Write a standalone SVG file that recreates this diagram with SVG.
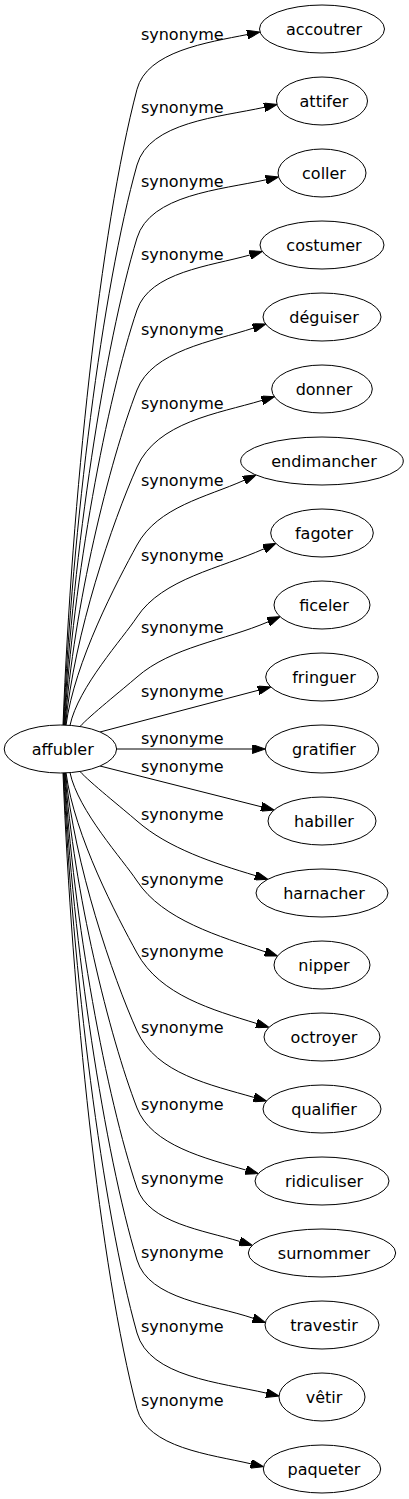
<svg xmlns="http://www.w3.org/2000/svg" width="409" height="1499" viewBox="0 0 409 1499">
<style>
.node ellipse{fill:#ffffff;stroke:#000000;stroke-width:1}
text{font-family:"DejaVu Sans","Liberation Sans",sans-serif;font-size:16px;fill:#000000;text-anchor:middle}
.edges path{fill:none;stroke:#000000;stroke-width:1;marker-end:url(#arr)}
</style>
<defs>
<marker id="arr" viewBox="0 0 13 9" refX="0" refY="4.5" markerWidth="13" markerHeight="9" markerUnits="userSpaceOnUse" orient="auto">
<path d="M0,0 L13,4.5 L0,9 Z" fill="#000000" stroke="#000000" stroke-width="1"/>
</marker>
</defs>
<rect x="0" y="0" width="409" height="1499" fill="#ffffff"/>
<g class="edges" id="edges">
<path d="M63,725.2 C71.9,500.3 99.8,230.8 137,89.3 C147,51.2 207.4,42.5 247.25,34.55"/>
<path d="M63.5,725.2 C72.3,527.1 102.2,289.1 137,165 C149.1,122 219.3,117.2 264.3,107.3"/>
<path d="M64,725.2 C72.8,552.9 104.5,345.3 137,238 C150.1,194.7 220.3,189.8 265.9,179.8"/>
<path d="M64.5,725.2 C73.2,578.4 106.4,400.5 137,310 C149.9,271.9 209.9,266.2 249.8,255"/>
<path d="M65,725.2 C73.6,606.7 109.2,462 137,390 C152.2,350.7 212,341.7 253.3,328.1"/>
<path d="M65.5,725.2 C74.1,634 112.6,521.3 137,467 C157.3,421.8 217.2,413.8 261.95,400.4"/>
<path d="M66,725.3 C74.5,661.7 117.1,581.4 137,545 C158,506.6 206.4,497.2 244.1,480.3"/>
<path d="M70,725.4 C78,687.3 123.3,637.9 137,617 C162.4,578.5 220.7,568.3 264,548.8"/>
<path d="M80,726.5 C90,715.5 122,690 137,677 C171.1,647 225,640.4 268.2,621.8"/>
<path d="M100,732 L258.2,690.3"/>
<path d="M116.5,749 L252.3,749"/>
<path d="M100,766 L261.4,806.8"/>
<path d="M80,771.5 C90,782.5 122,808 137,821 C168.3,848.5 214.15,863.2 255.35,875.6"/>
<path d="M70,772.6 C78,810.7 123.3,860.1 137,881 C162.7,920.1 219.5,936.3 265.2,951.8"/>
<path d="M66,772.7 C74.5,836.3 117.1,916.6 137,953 C160.3,995.5 212.8,1009.85 256.5,1023.45"/>
<path d="M65.5,772.8 C74.1,864 112.6,976.7 137,1031 C156.3,1073.9 211.3,1085 253.9,1097.4"/>
<path d="M65,772.8 C73.6,891.3 109.2,1036 137,1108 C151.4,1145.4 206.1,1158.5 245.8,1170"/>
<path d="M64.5,772.8 C73.2,919.6 106.4,1097.5 137,1188 C148.9,1223.1 203.3,1230.15 239.8,1241.45"/>
<path d="M64,772.8 C72.8,945.1 104.5,1152.7 137,1260 C149,1299.7 212.5,1304.4 253,1318.2"/>
<path d="M63.5,772.8 C72.3,970.9 102.2,1208.9 137,1333 C149.3,1376.9 220.4,1382.55 266.3,1393.1"/>
<path d="M63,772.8 C71.9,997.7 99.8,1267.2 137,1408.7 C147.3,1447.9 210.3,1454.45 250.9,1463.8"/>
</g>
<g id="edge-labels">
<text x="182.3" y="39.5">synonyme</text>
<text x="182.3" y="112.5">synonyme</text>
<text x="182.3" y="187">synonyme</text>
<text x="182.3" y="260">synonyme</text>
<text x="182.3" y="335">synonyme</text>
<text x="182.3" y="409.3">synonyme</text>
<text x="182.3" y="486">synonyme</text>
<text x="182.3" y="561">synonyme</text>
<text x="182.3" y="632.7">synonyme</text>
<text x="182.3" y="696.7">synonyme</text>
<text x="182.3" y="744.3">synonyme</text>
<text x="182.3" y="771.7">synonyme</text>
<text x="182.3" y="820">synonyme</text>
<text x="182.3" y="885">synonyme</text>
<text x="182.3" y="957.3">synonyme</text>
<text x="182.3" y="1032.7">synonyme</text>
<text x="182.3" y="1110">synonyme</text>
<text x="182.3" y="1184">synonyme</text>
<text x="182.3" y="1258.3">synonyme</text>
<text x="182.3" y="1332.3">synonyme</text>
<text x="182.3" y="1406">synonyme</text>
</g>
<g class="node" id="node-affubler"><ellipse cx="60.4" cy="749" rx="56.2" ry="24"/><text x="62.8" y="754.5">affubler</text></g>
<g class="node" id="node-accoutrer"><ellipse cx="322" cy="29" rx="62.5" ry="24"/><text x="324" y="34.5">accoutrer</text></g>
<g class="node" id="node-attifer"><ellipse cx="322" cy="101" rx="45.5" ry="24"/><text x="324" y="106.5">attifer</text></g>
<g class="node" id="node-coller"><ellipse cx="322" cy="173" rx="44" ry="24"/><text x="324" y="178.5">coller</text></g>
<g class="node" id="node-costumer"><ellipse cx="322" cy="245" rx="62" ry="24"/><text x="324" y="250.5">costumer</text></g>
<g class="node" id="node-deguiser"><ellipse cx="322" cy="317" rx="59" ry="24"/><text x="324" y="322.5">déguiser</text></g>
<g class="node" id="node-donner"><ellipse cx="322" cy="389" rx="50.3" ry="24"/><text x="324" y="394.5">donner</text></g>
<g class="node" id="node-endimancher"><ellipse cx="322" cy="461" rx="81.3" ry="24"/><text x="324" y="466.5">endimancher</text></g>
<g class="node" id="node-fagoter"><ellipse cx="322" cy="533" rx="51.3" ry="24"/><text x="324" y="538.5">fagoter</text></g>
<g class="node" id="node-ficeler"><ellipse cx="322" cy="605" rx="48" ry="24"/><text x="324" y="610.5">ficeler</text></g>
<g class="node" id="node-fringuer"><ellipse cx="322" cy="677" rx="56.3" ry="24"/><text x="324" y="682.5">fringuer</text></g>
<g class="node" id="node-gratifier"><ellipse cx="322" cy="749" rx="56.7" ry="24"/><text x="324" y="754.5">gratifier</text></g>
<g class="node" id="node-habiller"><ellipse cx="322" cy="821" rx="54" ry="24"/><text x="324" y="826.5">habiller</text></g>
<g class="node" id="node-harnacher"><ellipse cx="322" cy="893" rx="66" ry="24"/><text x="324" y="898.5">harnacher</text></g>
<g class="node" id="node-nipper"><ellipse cx="322" cy="965" rx="48" ry="24"/><text x="324" y="970.5">nipper</text></g>
<g class="node" id="node-octroyer"><ellipse cx="322" cy="1037" rx="58" ry="24"/><text x="324" y="1042.5">octroyer</text></g>
<g class="node" id="node-qualifier"><ellipse cx="322" cy="1109" rx="59" ry="24"/><text x="324" y="1114.5">qualifier</text></g>
<g class="node" id="node-ridiculiser"><ellipse cx="322" cy="1181" rx="67" ry="24"/><text x="324" y="1186.5">ridiculiser</text></g>
<g class="node" id="node-surnommer"><ellipse cx="322" cy="1253" rx="73.7" ry="24"/><text x="324" y="1258.5">surnommer</text></g>
<g class="node" id="node-travestir"><ellipse cx="322" cy="1325" rx="57" ry="24"/><text x="324" y="1330.5">travestir</text></g>
<g class="node" id="node-vetir"><ellipse cx="322" cy="1397" rx="43" ry="24"/><text x="324" y="1402.5">vêtir</text></g>
<g class="node" id="node-paqueter"><ellipse cx="322" cy="1469" rx="58.7" ry="24"/><text x="324" y="1474.5">paqueter</text></g>
</svg>
